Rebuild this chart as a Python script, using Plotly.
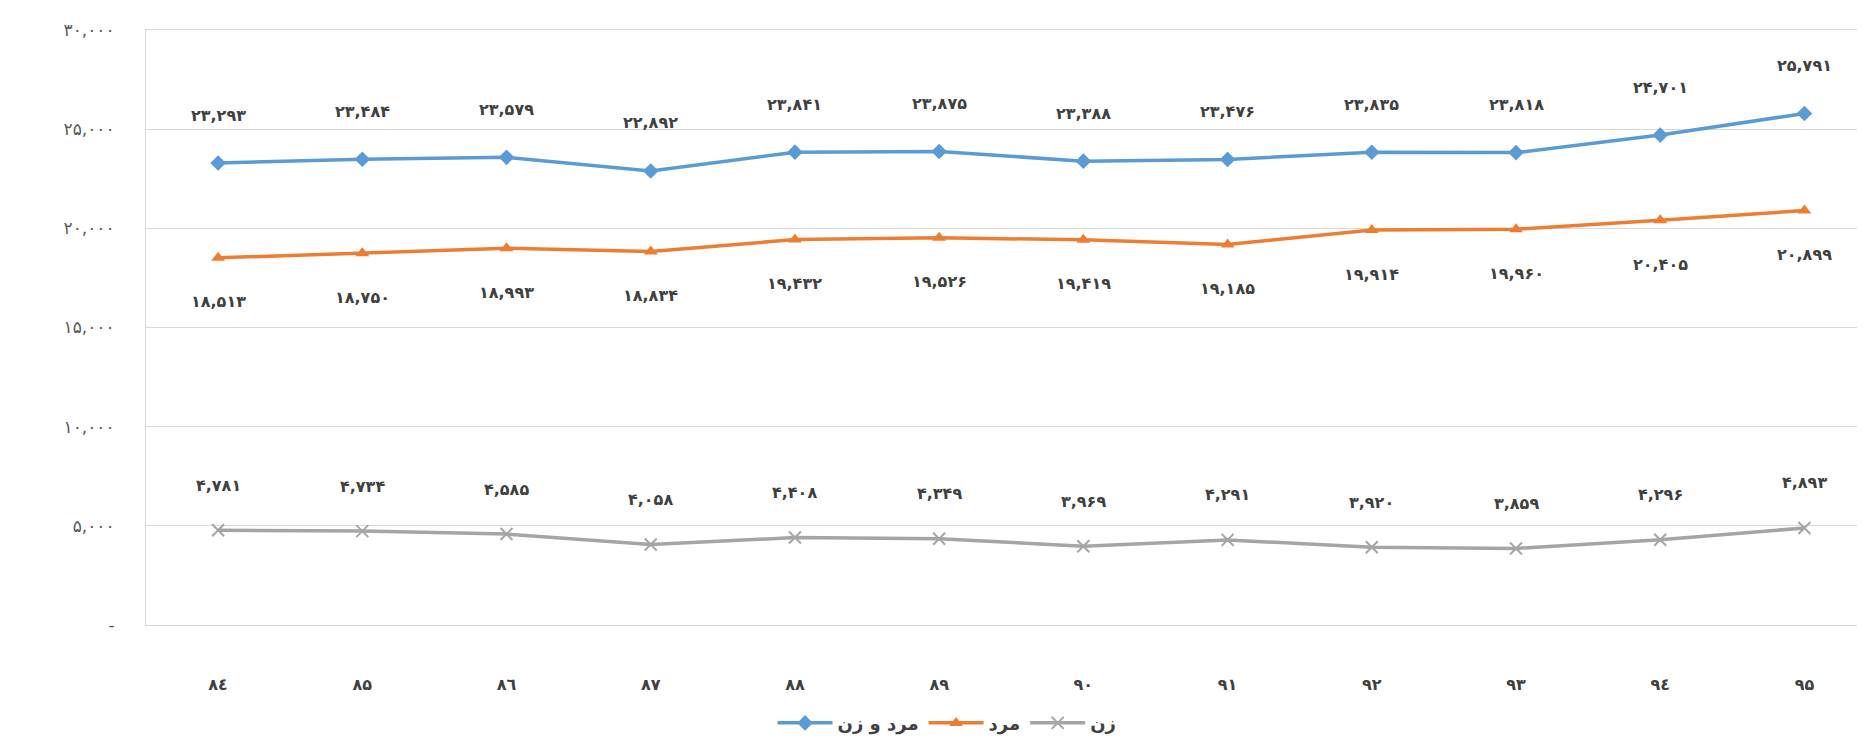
import plotly.graph_objects as go

# ── Data ─────────────────────────────────────────────────────────────────────
years = ["۸٤", "۸۵", "۸٦", "۸۷", "۸۸", "۸۹", "۹۰", "۹۱", "۹۲", "۹۳", "۹٤", "۹۵"]
both = [23293, 23484, 23579, 22892, 23841, 23875, 23388, 23476, 23835, 23818, 24701, 25791]
men = [18513, 18750, 18993, 18834, 19432, 19526, 19419, 19185, 19914, 19960, 20405, 20899]
women = [4781, 4734, 4585, 4058, 4408, 4349, 3969, 4291, 3920, 3859, 4296, 4893]
y_ticks = [0, 5000, 10000, 15000, 20000, 25000, 30000]

FA_DIGITS = str.maketrans("0123456789", "۰۱۲۳۴۵۶۷۸۹")


def fa(n):
    return f"{n:,}".translate(FA_DIGITS)


y_tick_text = ["-" if v == 0 else fa(v) for v in y_ticks]

COLORS = {"both": "#5B9BD5", "men": "#ED7D31", "women": "#A5A5A5"}
FONT = "DejaVu Sans"
TEXT = "#404040"

fig = go.Figure()

series = [
    ("مرد و زن", both, COLORS["both"], dict(symbol="diamond", size=12), 48),
    ("مرد", men, COLORS["men"], dict(symbol="triangle-up", size=12), -44),
    ("زن", women, COLORS["women"], dict(symbol="x-thin-open", size=12, line=dict(width=2, color=COLORS["women"])), 45),
]

annotations = []
for name, vals, color, marker, shift in series:
    fig.add_trace(go.Scatter(
        x=years, y=vals, mode="lines+markers", name=name,
        line=dict(color=color, width=3.5),
        marker=dict(color=color, **marker),
    ))
    for x, v in zip(years, vals):
        annotations.append(dict(
            x=x, y=v, xref="x", yref="y", text=f"<b>{fa(v)}</b>", showarrow=False,
            yshift=shift, font=dict(family=FONT, size=16, color=TEXT),
        ))

# page body has an 8px margin, so the figure is sized to fit inside it
fig.update_layout(
    width=1857, height=734,
    margin=dict(l=138, r=0, t=22, b=107),
    paper_bgcolor="white", plot_bgcolor="white",
    font=dict(family=FONT, size=15, color=TEXT),
    annotations=annotations,
    showlegend=True,
    legend=dict(orientation="h", x=0.466, xanchor="center", y=-0.165, yanchor="middle",
                itemwidth=55, font=dict(family=FONT, size=18, color=TEXT, weight="bold")),
)
fig.update_xaxes(
    type="category", range=[-0.5, 11.42],
    showgrid=False, showline=True, linecolor="#D9D9D9", mirror=True,
    ticks="", ticklabelstandoff=45,
    tickfont=dict(family=FONT, size=16, color=TEXT, weight="bold"),
)
fig.update_yaxes(
    range=[0, 30000], tickvals=y_ticks, ticktext=y_tick_text,
    showgrid=True, gridcolor="#D9D9D9", gridwidth=1,
    showline=True, linecolor="#D9D9D9", mirror=True, zeroline=False,
    ticks="", ticklabelstandoff=27,
    tickfont=dict(family=FONT, size=17, color="#595959"),
)

fig.write_html("out.html")
